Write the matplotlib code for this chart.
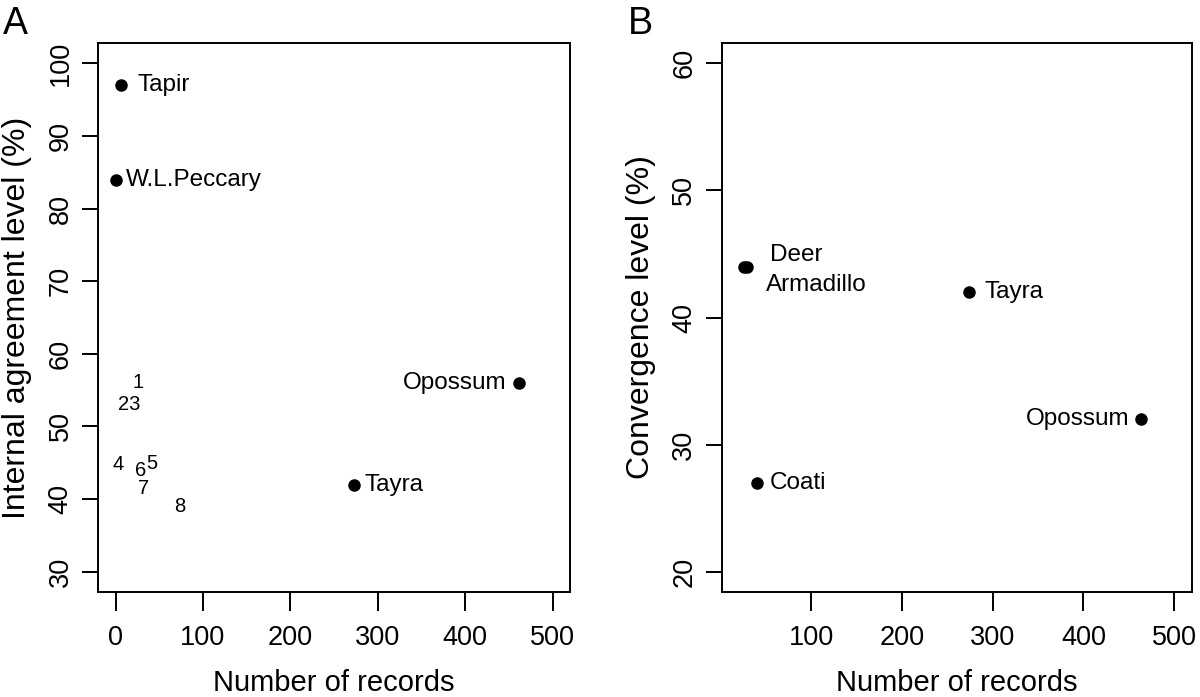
import matplotlib.pyplot as plt

plt.rcParams['font.family'] = ['Liberation Sans', 'DejaVu Sans']

# Panel A: internal agreement vs number of records
a_names = ['Tapir', 'W.L.Peccary', 'Opossum', 'Tayra']
a_records = [6, 1, 462, 273]
a_agree = [97, 84, 56, 42]
# numbered species (drawn as text only)
a_num_labels = ['1', '23', '4', '6', '5', '7', '8']
a_num_records = [26, 16, 3, 29, 41, 32, 74]
a_num_agree = [56, 53, 44.8, 44, 44.9, 41.5, 39]

# Panel B: convergence vs number of records
b_names = ['Deer', 'Armadillo', 'Tayra', 'Opossum', 'Coati']
b_records = [26, 30, 274, 463, 41]
b_conv = [44, 44, 42, 32, 27]

fig = plt.figure(figsize=(12, 6.97), dpi=100)
axA = fig.add_axes([0.0817, 0.1506, 0.3933, 0.7877])
axB = fig.add_axes([0.6014, 0.1506, 0.3917, 0.7877])

tick_fs = 19.5
lab_fs = 21
ylab_fs = 23
txt_fs = 17.5


def style(ax):
    for s in ax.spines.values():
        s.set_linewidth(1.4)
    ax.tick_params(axis='x', direction='out', length=13.5, width=1.4,
                   pad=10, labelsize=tick_fs)
    ax.tick_params(axis='y', direction='out', length=11.5, width=1.4,
                   pad=6, labelsize=tick_fs, labelrotation=90)
    for t in ax.get_yticklabels():
        t.set_va('center')


# --- A ---
axA.plot(a_records, a_agree, 'o', color='black', markersize=8)
offA = [(12, 0, 'left'), (7, 0, 'left'), (-9, 0, 'right'), (7.5, 0, 'left')]
for name, x, y, (dx, dy, ha) in zip(a_names, a_records, a_agree, offA):
    axA.annotate(name, (x, y), xytext=(dx, dy), textcoords='offset points',
                 ha=ha, va='center', fontsize=txt_fs)
for lab, x, y in zip(a_num_labels, a_num_records, a_num_agree):
    axA.text(x, y, lab, ha='center', va='center', fontsize=14.5)

axA.set_xlim(-20, 520)
axA.set_ylim(27.2, 102.8)
axA.set_xticks([0, 100, 200, 300, 400, 500])
axA.set_yticks([30, 40, 50, 60, 70, 80, 90, 100])
style(axA)
axA.set_xlabel('Number of records', fontsize=lab_fs, labelpad=13)
axA.set_ylabel('Internal agreement level (%)', fontsize=ylab_fs, labelpad=11)

# --- B ---
axB.plot(b_records, b_conv, 'o', color='black', markersize=8)
offB = [(19, 8.5, 'left'), (16, -13, 'left'), (11.5, 0, 'left'),
        (-8, 0, 'right'), (8.5, 0, 'left')]
# Armadillo label is placed relative to the first dot of the pair
for name, x, y, (dx, dy, ha) in zip(b_names, b_records, b_conv, offB):
    if name == 'Armadillo':
        x = b_records[0]
    axB.annotate(name, (x, y), xytext=(dx, dy), textcoords='offset points',
                 ha=ha, va='center', fontsize=txt_fs)

axB.set_xlim(1.6, 519.3)
axB.set_ylim(18.4, 61.6)
axB.set_xticks([100, 200, 300, 400, 500])
axB.set_yticks([20, 30, 40, 50, 60])
style(axB)
axB.set_xlabel('Number of records', fontsize=lab_fs, labelpad=13)
axB.set_ylabel('Convergence level (%)', fontsize=ylab_fs, labelpad=11)

fig.text(0.0025, 0.966, 'A', fontsize=27, ha='left', va='center')
fig.text(0.523, 0.966, 'B', fontsize=27, ha='left', va='center')

fig.savefig('out.png', dpi=100)
